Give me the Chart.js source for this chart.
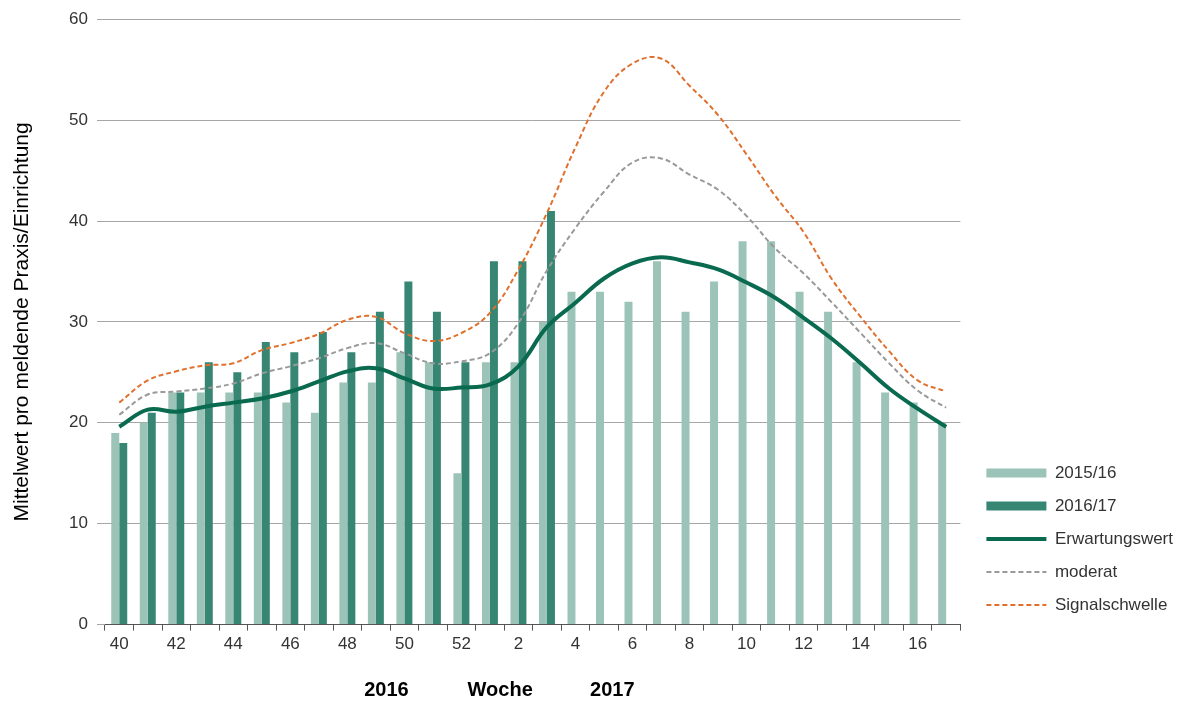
<!DOCTYPE html>
<html>
<head>
<meta charset="utf-8">
<script src="https://cdn.jsdelivr.net/npm/chart.js@4.4.1/dist/chart.umd.min.js"></script>
<style>
  html, body { margin: 0; padding: 0; background: #fff; }
  #wrap { width: 1178px; height: 702px; }
</style>
</head>
<body>
<div id="wrap"><canvas id="fluChart"></canvas></div>
<script>
// Kalenderwochen 40/2016 bis 17/2017
const weeks = ['40','41','42','43','44','45','46','47','48','49','50','51','52',
               '1','2','3','4','5','6','7','8','9','10','11','12','13','14','15','16','17'];

const season1516 = [19, 20, 23, 23, 23, 23, 22, 21, 24, 24, 27, 26, 15, 26, 26,
                    30, 33, 33, 32, 36, 31, 34, 38, 38, 33, 31, 26, 23, 22, 20];

const season1617 = [18, 21, 23, 26, 25, 28, 27, 29, 27, 31, 34, 31, 26, 36, 36,
                    41, null, null, null, null, null, null, null, null, null, null, null, null, null, null];

const erwartung = [19.6, 21.3, 21.1, 21.6, 22.0, 22.4, 23.1, 24.1, 25.1, 25.4, 24.4, 23.4, 23.5, 23.8, 25.6,
                   29.5, 31.9, 34.3, 35.8, 36.4, 35.9, 35.2, 33.9, 32.4, 30.4, 28.3, 25.9, 23.4, 21.4, 19.6];

const moderat = [20.8, 22.8, 23.1, 23.4, 23.9, 24.9, 25.6, 26.4, 27.4, 27.9, 26.9, 25.9, 26.1, 26.9, 29.9,
                 35.1, 39.3, 42.9, 45.8, 46.2, 44.6, 43.1, 40.5, 37.3, 34.8, 31.9, 28.9, 25.9, 23.2, 21.5];

const signal = [22.0, 24.2, 25.1, 25.7, 25.9, 27.2, 27.9, 28.8, 30.2, 30.5, 28.9, 28.1, 28.9, 30.9, 35.2,
                40.8, 47.3, 52.8, 55.6, 56.1, 53.4, 50.5, 46.6, 42.5, 38.9, 34.2, 30.5, 27.1, 24.2, 23.1];

const yTicks = [0, 10, 20, 30, 40, 50, 60];

Chart.defaults.font.family = '"Liberation Sans", Arial, sans-serif';
Chart.defaults.color = '#333';

// Jahresbeschriftung unter der x-Achse
const yearLabels = {
    id: 'yearLabels',
    afterDraw(chart) {
        const ctx = chart.ctx;
        const ca = chart.chartArea;
        const w = ca.right - ca.left;
        ctx.save();
        ctx.font = 'bold 20px "Liberation Sans", Arial, sans-serif';
        ctx.fillStyle = '#000';
        ctx.textAlign = 'center';
        ctx.textBaseline = 'middle';
        ctx.fillText('2016', ca.left + w * 0.329, 690);
        ctx.fillText('Woche', ca.left + w * 0.462, 690);
        ctx.fillText('2017', ca.left + w * 0.593, 690);
        ctx.restore();
    }
};

// Legende etwas nach rechts unten verschieben
const legendShift = {
    id: 'legendShift',
    afterLayout(chart) {
        const lg = chart.legend;
        if (!lg) return;
        lg.left += 10; lg.right += 10;
        lg.top += 5; lg.bottom += 5;
    }
};

new Chart(document.getElementById('fluChart'), {
    type: 'bar',
    data: {
        labels: weeks,
        datasets: [
            {
                label: '2015/16',
                data: season1516,
                backgroundColor: '#9cc3b7',
                borderWidth: 0,
                order: 2
            },
            {
                label: '2016/17',
                data: season1617,
                backgroundColor: '#368673',
                borderWidth: 0,
                order: 2
            },
            {
                type: 'line',
                label: 'Erwartungswert',
                data: erwartung,
                borderColor: '#0a6a4f',
                backgroundColor: '#0a6a4f',
                borderWidth: 4,
                pointRadius: 0,
                tension: 0.4,
                fill: false,
                order: 1
            },
            {
                type: 'line',
                label: 'moderat',
                data: moderat,
                borderColor: '#999999',
                backgroundColor: '#999999',
                borderWidth: 2,
                borderDash: [5, 3],
                pointRadius: 0,
                tension: 0.4,
                fill: false,
                order: 1
            },
            {
                type: 'line',
                label: 'Signalschwelle',
                data: signal,
                borderColor: '#e0702e',
                backgroundColor: '#e0702e',
                borderWidth: 2,
                borderDash: [5, 3],
                pointRadius: 0,
                tension: 0.4,
                fill: false,
                order: 1
            }
        ]
    },
    options: {
        responsive: true,
        maintainAspectRatio: false,
        animation: false,
        layout: {
            padding: { top: 10, left: 6, right: 5, bottom: 43 }
        },
        datasets: {
            bar: { barPercentage: 1, categoryPercentage: 0.56 }
        },
        plugins: {
            legend: {
                position: 'right',
                align: 'end',
                fullSize: false,
                labels: {
                    usePointStyle: true,
                    pointStyleWidth: 60,
                    boxHeight: 9,
                    padding: 16,
                    color: '#333',
                    font: { size: 17 },
                    generateLabels: function(chart) {
                        return chart.data.datasets.map(function(ds, i) {
                            const isLine = ds.type === 'line';
                            return {
                                text: ds.label,
                                fillStyle: ds.backgroundColor,
                                strokeStyle: ds.borderColor,
                                lineWidth: isLine ? ds.borderWidth : 0,
                                lineDash: ds.borderDash || [],
                                pointStyle: isLine ? 'line' : 'rect',
                                hidden: !chart.isDatasetVisible(i),
                                fontColor: '#333',
                                datasetIndex: i
                            };
                        });
                    }
                }
            },
            tooltip: { enabled: false }
        },
        scales: {
            x: {
                grid: {
                    offset: true,
                    drawOnChartArea: false,
                    drawTicks: true,
                    tickLength: 6,
                    color: '#555'
                },
                border: { color: '#555', width: 1 },
                ticks: {
                    autoSkip: false,
                    maxRotation: 0,
                    padding: 4,
                    font: { size: 17 },
                    color: '#333',
                    callback: function(value, index) {
                        return index % 2 === 0 ? weeks[index] : '';
                    }
                }
            },
            y: {
                min: yTicks[0],
                max: yTicks[yTicks.length - 1],
                afterFit: function(scale) { scale.width = 99; },
                afterBuildTicks: function(scale) {
                    scale.ticks = yTicks.map(v => ({ value: v }));
                },
                grid: {
                    color: '#a6a6a6',
                    lineWidth: 1,
                    tickLength: 8
                },
                border: { display: false },
                ticks: {
                    padding: 9,
                    font: { size: 17 },
                    color: '#333'
                },
                title: {
                    display: true,
                    text: 'Mittelwert pro meldende Praxis/Einrichtung',
                    color: '#000',
                    font: { size: 21 },
                    padding: { top: 4, bottom: 4 }
                }
            }
        }
    },
    plugins: [yearLabels, legendShift]
});
</script>
</body>
</html>
